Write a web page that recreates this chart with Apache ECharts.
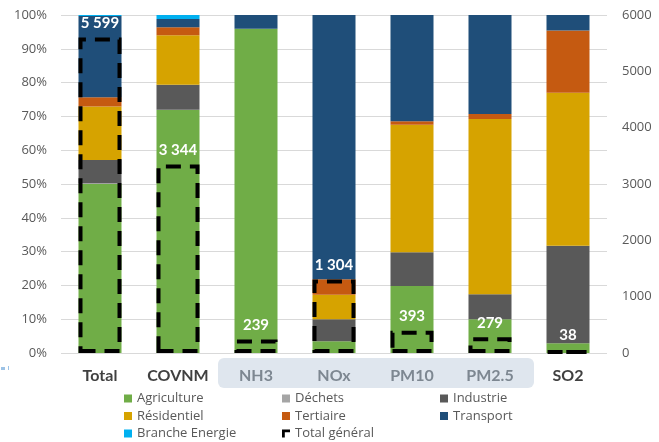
<!DOCTYPE html>
<html>
<head>
<meta charset="utf-8">
<script src="https://cdn.jsdelivr.net/npm/echarts@6/dist/echarts.min.js"></script>
<style>html,body{margin:0;padding:0;background:#fff}#c{width:659px;height:442px}</style>
</head>
<body>
<div id="c"></div>
<script>
const categories = ['Total', 'COVNM', 'NH3', 'NOx', 'PM10', 'PM2.5', 'SO2'];
const agriculture    = [50.0, 71.9, 95.9, 3.5, 19.8, 10.0, 2.9];
const dechets        = [0.2, 0.1, 0, 0, 0, 0, 0];
const industrie      = [6.9, 7.4, 0, 6.5, 10.0, 7.4, 28.8];
const residentiel    = [15.8, 14.6, 0, 7.2, 37.7, 51.8, 45.3];
const tertiaire      = [2.8, 2.4, 0, 4.6, 1.1, 1.5, 18.4];
const transport      = [24.0, 2.4, 4.1, 78.2, 31.4, 29.3, 4.6];
const brancheEnergie = [0.3, 1.2, 0, 0, 0, 0, 0];
const totalGeneral   = [5599, 3344, 239, 1304, 393, 279, 38];
const leftTicks = [0, 10, 20, 30, 40, 50, 60, 70, 80, 90, 100];
const rightTicks = [0, 1000, 2000, 3000, 4000, 5000, 6000];
const dimmedCategories = ['NH3', 'NOx', 'PM10', 'PM2.5'];

const colors = {
  'Agriculture': '#70AD47', 'Déchets': '#A5A5A5', 'Industrie': '#595959',
  'Résidentiel': '#D6A300', 'Tertiaire': '#C55A11', 'Transport': '#1F4E79',
  'Branche Energie': '#00B0F0'
};
const stackData = [
  ['Agriculture', agriculture], ['Déchets', dechets], ['Industrie', industrie],
  ['Résidentiel', residentiel], ['Tertiaire', tertiaire], ['Transport', transport],
  ['Branche Energie', brancheEnergie]
];
const series = stackData.map(([name, data]) => ({
  name, type: 'bar', stack: 'pct', yAxisIndex: 0, data,
  barWidth: 43, barGap: '-100%',
  itemStyle: { color: colors[name] }, emphasis: { disabled: true }
}));
series.push({
  name: 'Total général', type: 'bar', yAxisIndex: 1, data: totalGeneral,
  barWidth: 43, barGap: '-100%', z: 5,
  itemStyle: { color: 'rgba(0,0,0,0)', borderColor: '#000', borderWidth: 4, borderType: [15, 9] },
  label: {
    show: true, position: 'top', distance: 7, color: '#fff', fontWeight: 'bold',
    fontSize: 15, fontFamily: 'Lato',
    formatter: p => String(p.value).replace(/\B(?=(\d{3})+(?!\d))/g, ' ')
  },
  emphasis: { disabled: true }
});

const legendText = { color: '#595959', fontSize: 13, fontFamily: 'Open Sans' };
const totalIcon = 'path://M0,0 L10,0 L10,3.5 L3.5,3.5 L3.5,10 L0,10 Z';
function mkLegend(left, names) {
  return {
    orient: 'vertical', left, top: 392, itemGap: 4.5, itemWidth: 8, itemHeight: 8,
    textStyle: legendText, padding: 0, selectedMode: false,
    data: names.map(n => n === 'Total général'
      ? { name: n, icon: totalIcon, itemStyle: { color: '#000', borderWidth: 0 } }
      : { name: n, icon: 'rect' })
  };
}

const chart = echarts.init(document.getElementById('c'), null, { renderer: 'canvas' });
chart.setOption({
  animation: false,
  backgroundColor: '#fff',
  grid: { left: 61, right: 52, top: 15, bottom: 89 },
  legend: [
    mkLegend(124, ['Agriculture', 'Résidentiel', 'Branche Energie']),
    mkLegend(282, ['Déchets', 'Tertiaire', 'Total général']),
    mkLegend(440, ['Industrie', 'Transport'])
  ],
  graphic: [
    { type: 'rect', z: -1, shape: { x: 218, y: 358, width: 316, height: 30, r: 6 }, style: { fill: '#DFE6EE' } },
    { type: 'rect', shape: { x: 1, y: 367, width: 4, height: 3 }, style: { fill: '#9DC3E6' } },
    { type: 'rect', shape: { x: 8, y: 366, width: 1, height: 4 }, style: { fill: '#9DC3E6' } }
  ],
  xAxis: {
    type: 'category', data: categories,
    axisLine: { show: false }, axisTick: { show: false },
    axisLabel: {
      interval: 0, hideOverlap: false,
      margin: 15, fontSize: 16, fontWeight: 'bold', fontFamily: 'Lato',
      color: (v) => dimmedCategories.includes(v) ? '#7D8791' : '#404040'
    }
  },
  yAxis: [
    {
      type: 'value', min: leftTicks[0], max: leftTicks[leftTicks.length - 1], interval: 10,
      axisLine: { show: false }, axisTick: { show: false },
      axisLabel: { formatter: '{value}%', color: '#595959', fontSize: 13, fontFamily: 'Open Sans', margin: 14 },
      splitLine: { lineStyle: { color: '#D9D9D9', width: 1 } }
    },
    {
      type: 'value', min: rightTicks[0], max: rightTicks[rightTicks.length - 1], interval: 1000,
      axisLine: { show: false }, axisTick: { show: false },
      axisLabel: { formatter: v => String(v), color: '#595959', fontSize: 13, fontFamily: 'Open Sans', margin: 15 },
      splitLine: { show: false }
    }
  ],
  series
});
</script>
</body>
</html>
